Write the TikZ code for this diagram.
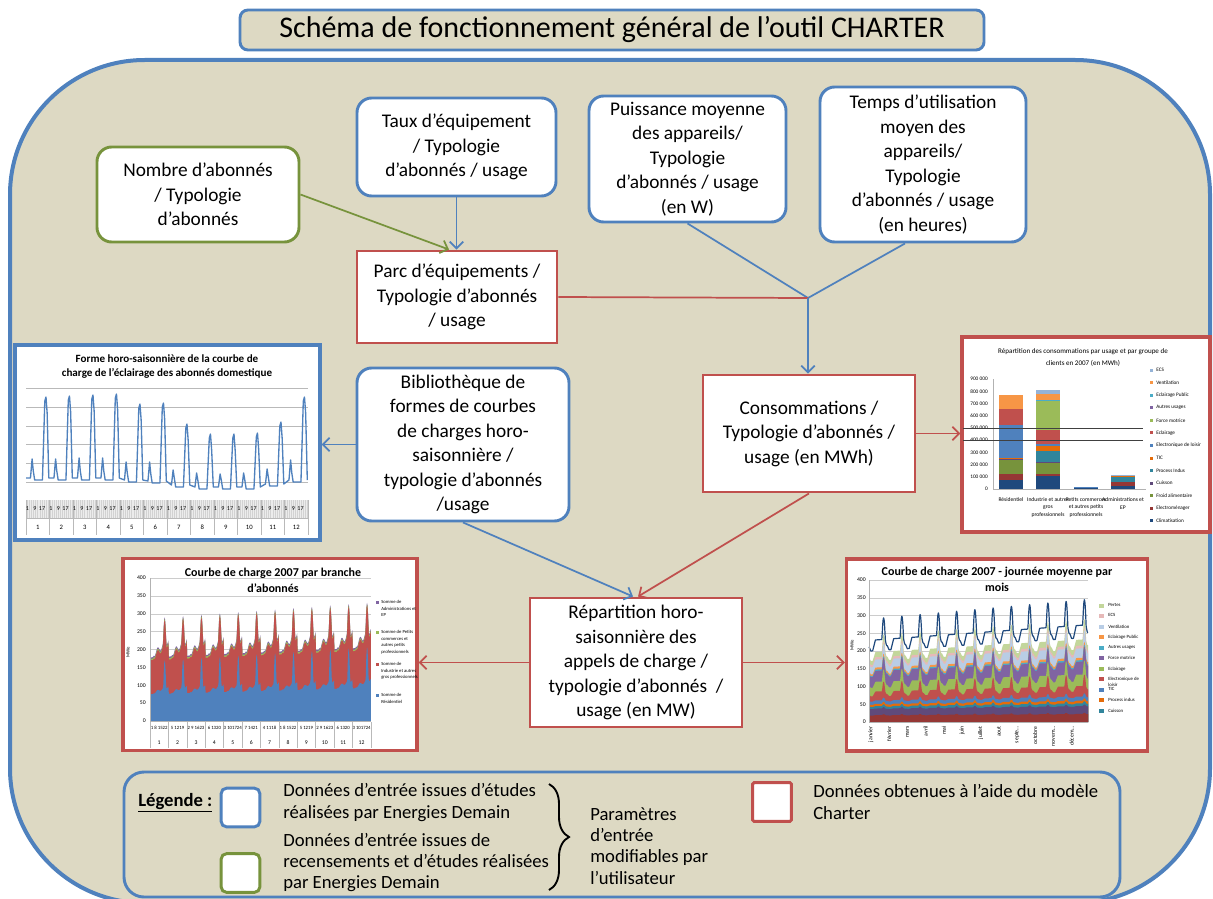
\documentclass[tikz,border=0pt]{standalone}
\usepackage{fontspec}
\setmainfont{Carlito}
\usepackage{tikz}
\usetikzlibrary{calc, positioning, arrows.meta, decorations.pathreplacing}

\definecolor{bleu}{HTML}{4F81BD}
\definecolor{rouge}{HTML}{C0504D}
\definecolor{vert}{HTML}{77933C}
\definecolor{beige}{HTML}{DDD9C3}
\definecolor{ecs}{HTML}{95B3D7}
\definecolor{ventil}{HTML}{F79646}
\definecolor{eclpub}{HTML}{4BACC6}
\definecolor{autres}{HTML}{8064A2}
\definecolor{force}{HTML}{9BBB59}
\definecolor{eclair}{HTML}{C0504D}
\definecolor{loisir}{HTML}{4F81BD}
\definecolor{tic}{HTML}{E46C0A}
\definecolor{process}{HTML}{31859C}
\definecolor{cuisson}{HTML}{5F497A}
\definecolor{froid}{HTML}{77933C}
\definecolor{menager}{HTML}{953735}
\definecolor{climat}{HTML}{1F497D}
\definecolor{pertesq}{HTML}{C3D69B}
\definecolor{ecsq}{HTML}{E6B9B8}
\definecolor{ventq}{HTML}{B9CDE5}
\definecolor{violq}{HTML}{604A7B}

\tikzset{
  donnee/.style={draw=#1, line width=2.2pt, fill=white, rounded corners=11pt, align=center, inner sep=0pt, font=\fontsize{14.5}{18.4}\selectfont},
  modele/.style={draw=rouge, line width=2.2pt, fill=white, align=center, inner sep=0pt, font=\fontsize{14.5}{18.4}\selectfont},
  graphe/.style={draw=#1, line width=2.6pt, fill=white, inner sep=0pt},
  carre/.style={draw=#1, line width=2.2pt, fill=white, rounded corners=4pt, minimum size=29pt, inner sep=0pt},
  legtxt/.style={align=left, inner sep=0pt, font=\fontsize{14}{16}\selectfont},
  lien/.style={line width=1.3pt, draw=#1},
  petit/.style 2 args={font=\fontsize{#1}{#2}\selectfont, inner sep=0pt},
  titregraphe/.style={align=center, inner sep=0pt, font=\bfseries\fontsize{9}{12}\selectfont},
}

\begin{document}
\begin{tikzpicture}[x=0.75pt, y=-0.75pt, >={Straight Barb[length=5pt,width=10pt]},
  declare function={
    bosse(\vt,\vc,\vw)=max(0,1-((\vt-\vc)/\vw)^2);
    forme(\vt)=178+45*\vt+8*sin(\vt*1080)+68*bosse(\vt,0.8,0.09)-12*bosse(\vt,0.1,0.1);
    formebas(\vt)=75+20*\vt+3*sin(\vt*1080)+74*bosse(\vt,0.8,0.08)-5*bosse(\vt,0.1,0.1);
    haut(\vx)=forme(mod(\vx,1))*(1+0.013*\vx);
    bas(\vx)=formebas(mod(\vx,1))*(1+0.02*\vx);
    jour(\vt)=0.12*max(0,1-\vt/0.1)+0.3*min(1,max(0,(\vt-0.2)/0.15))-0.18*min(1,max(0,(\vt-0.88)/0.08))+0.6*bosse(\vt,0.8,0.09);
    couche(\vx,\vb,\va)=(\vb+\va*jour(mod(\vx,1)))*(1+0.016*\vx);
  }]
  \fill[white, use as bounding box] (0,0) rectangle (1213,899);
  \begin{scope}
    \clip (0,0) rectangle (1213,899);
    \draw[bleu, line width=3pt, fill=beige, rounded corners=101pt] (10,60) rectangle (1210,903);
  \end{scope}

  \node[draw=bleu, line width=2.2pt, fill=beige, rounded corners=6pt, minimum width=558pt, minimum height=30pt, font=\fontsize{22.5}{26}\selectfont] (titre) at (612,30) {Schéma de fonctionnement général de l’outil CHARTER};

  \node[donnee=vert, minimum width=151.5pt, minimum height=71.25pt] (nombre) at (198,194.5) {Nombre d’abonnés\\/ Typologie\\d’abonnés};
  \node[donnee=bleu, minimum width=149.25pt, minimum height=73.5pt] (taux) at (456.5,147) {Taux d’équipement\\/ Typologie\\d’abonnés / usage};
  \node[donnee=bleu, minimum width=147.75pt, minimum height=94.5pt] (puissance) at (687.5,159) {Puissance moyenne\\des appareils/\\Typologie\\d’abonnés / usage\\(en W)};
  \node[donnee=bleu, minimum width=154.5pt, minimum height=116.25pt] (temps) at (923,164.5) {Temps d’utilisation\\moyen des\\appareils/\\Typologie\\d’abonnés / usage\\(en heures)};
  \node[modele, minimum width=150pt, minimum height=69pt] (parc) at (457,297) {Parc d’équipements /\\Typologie d’abonnés\\/ usage};
  \node[donnee=bleu, minimum width=159pt, minimum height=114.75pt] (biblio) at (463,444.5) {Bibliothèque de\\formes de courbes\\de charges horo-\\saisonnière /\\typologie d’abonnés\\/usage};
  \node[modele, minimum width=159pt, minimum height=87.75pt] (conso) at (809,433.5) {Consommations /\\Typologie d’abonnés /\\usage (en MWh)};
  \node[modele, minimum width=159pt, minimum height=96.75pt] (repart) at (636,662.5) {Répartition horo-\\saisonnière des\\appels de charge /\\typologie d’abonnés~ /\\usage (en MW)};

  \node[graphe=bleu, minimum width=228.75pt, minimum height=146.25pt] (g1) at (167.5,442.5) {};
  \node[graphe=rouge, minimum width=186pt, minimum height=146.25pt] (g2) at (1086,434.5) {};
  \node[graphe=rouge, minimum width=220.5pt, minimum height=144pt] (g3) at (270,654.5) {};
  \node[graphe=rouge, minimum width=225.75pt, minimum height=144pt] (g4) at (997,655) {};

  \coordinate (j) at (808,298);
  \draw[lien=vert, ->] (nombre.east) -- ($(parc.north)+(-8,0)$);
  \draw[lien=bleu, ->] (taux.south) -- (taux.south |- parc.north);
  \draw[lien=bleu] (puissance.south) -- (j);
  \draw[lien=bleu] ($(temps.south)+(-18,0)$) -- (j);
  \draw[lien=rouge] (parc.east) -- (j);
  \draw[lien=bleu, ->] (j) -- (j |- conso.north);
  \draw[lien=bleu, ->] (biblio.west) -- (biblio.west -| g1.east);
  \draw[lien=rouge, ->] (conso.east) -- (conso.east -| g2.west);
  \draw[lien=bleu, ->] (biblio.south) -- ($(repart.north)+(-3,0)$);
  \draw[lien=rouge, ->] (conso.south) -- ($(repart.north)+(2,0)$);
  \draw[lien=rouge, ->] (repart.west) -- (repart.west -| g3.east);
  \draw[lien=rouge, ->] (repart.east) -- (repart.east -| g4.west);

  % graphe 1
  \node[align=center, inner sep=0pt, font=\bfseries\fontsize{8.3}{10.5}\selectfont] (titre1) at (167,367) {Forme horo-saisonnière de la courbe de\\charge de l'éclairage des abonnés domestique};
  \foreach \y in {388,407,426,444,463,482}
    \draw[gray!55, line width=0.5pt] (26,\y) -- (308,\y);
  \fill[gray!35] (26,500) rectangle (308,518);
  \foreach \i in {0,...,143}
    \draw[white!85!gray, line width=0.35pt] ({26+\i*1.958},500) -- ++(0,18);
  \foreach \m in {0,...,12}
    \draw[gray!55, line width=0.4pt] ({26+\m*23.5},500) -- ++(0,35);
  \draw[gray!55, line width=0.4pt] (26,518) -- (308,518);
  \foreach \m in {1,...,12} {
    \node[petit={4.5}{5}] at ({26+(\m-1)*23.5+1.5},509) {1};
    \node[petit={4.5}{5}] at ({26+(\m-1)*23.5+9},509) {9};
    \node[petit={4.5}{5}] at ({26+(\m-1)*23.5+16},509) {17};
    \node[petit={5}{6}] at ({26+(\m-0.5)*23.5},527) {\m};
  }
  \draw[bleu, line width=1pt, line join=round] (26,478)
    \foreach \b/\p/\h [count=\m from 0] in {478/397/19, 478/396/19, 478/395/20, 478/394/20, 480/404/18, 481/403/19, 485/424/15, 487/434/14, 487/434/13, 487/433/14, 484/422/15, 480/397/20} {
      -- ({26+(\m+0.19)*23.5},\b) -- ({26+(\m+0.26)*23.5},{\b-\h}) -- ({26+(\m+0.31)*23.5},{\b-7})
      -- ({26+(\m+0.37)*23.5},{\b+2}) -- ({26+(\m+0.7)*23.5},{\b+2}) -- ({26+(\m+0.8)*23.5},{\p+4})
      -- ({26+(\m+0.85)*23.5},\p) -- ({26+(\m+0.9)*23.5},{\p+16}) -- ({26+(\m+0.97)*23.5},\b)
    };

  % graphe 2
  \node[align=center, inner sep=0pt, font=\fontsize{5.3}{9.5}\selectfont] (titre2) at (1083,357.5) {Répartition des consommations par usage et par groupe de\\clients en 2007 (en MWh)};
  \foreach \v in {0,...,9}
    \node[petit={4}{4}, anchor=east] at (988,{489-12.2*\v}) {\ifnum\v=0 0\else\v00 000\fi};
  \draw[gray!60, line width=0.4pt] (993,379) -- (993,489) -- (1146,489);
  \foreach \coul/\som [remember=\som as \pied (initially 489)] in {climat/480, menager/474.3, froid/460, cuisson/459, tic/457.7, loisir/425, eclair/409, ventil/395}
    \fill[\coul] (999,\pied) rectangle (1023,\som);
  \foreach \coul/\som [remember=\som as \pied (initially 489)] in {climat/475.7, menager/474, froid/462.3, cuisson/461.7, process/450.7, tic/446, loisir/444.3, eclair/430, force/400.7, autres/400.3, eclpub/400, ventil/394.3, ecs/390}
    \fill[\coul] (1036,\pied) rectangle (1060,\som);
  \foreach \coul/\som [remember=\som as \pied (initially 489)] in {climat/488, loisir/486.7}
    \fill[\coul] (1074,\pied) rectangle (1098,\som);
  \foreach \coul/\som [remember=\som as \pied (initially 489)] in {climat/485.7, menager/481.7, process/477.3, tic/476, ecs/475}
    \fill[\coul] (1111,\pied) rectangle (1135,\som);
  \draw[black!75, line width=0.6pt] (963,428.3) -- (1143,428.3);
  \draw[black!75, line width=0.6pt] (963,440.3) -- (1143,440.3);
  \node[petit={4.2}{5.5}] at (1011,500) {Résidentiel};
  \node[petit={4.2}{5.5}, align=center] at (1048,507.5) {Industrie et autres\\gros\\professionnels};
  \node[petit={4.2}{5.5}, align=center] at (1086,507.5) {Petits commerces\\et autres petits\\professionnels};
  \node[petit={4.2}{5.5}, align=center] at (1123,503.7) {Administrations et\\EP};
  \foreach \coul/\nom [count=\i from 0] in {ecs/ECS, ventil/Ventilation, eclpub/Eclairage Public, autres/Autres usages, force/Force motrice, eclair/Eclairage, loisir/Electronique de loisir, tic/TIC, process/Process Indus, cuisson/Cuisson, froid/Froid alimentaire, menager/Electroménager, climat/Climatisation} {
    \fill[\coul] (1150,{368.5+\i*12.58}) rectangle ++(3,3);
    \node[petit={3.9}{4.5}, anchor=west] at (1156,{370+\i*12.58}) {\nom};
  }

  % graphe 3
  \node[titregraphe] (titre3) at (273,580) {Courbe de charge 2007 par branche\\d'abonnés};
  \begin{scope}[shift={(150,721)}, x=13.8pt, y=0.268pt]
    \foreach \v in {50,100,...,400}
      \draw[gray!40, line width=0.4pt] (0,\v) -- (12,\v);
    \fill[autres] (0,0) -- plot[domain=0:12, samples=481] (\x,{haut(\x)}) -- (12,0) -- cycle;
    \fill[force] (0,0) -- plot[domain=0:12, samples=481] (\x,{haut(\x)-4}) -- (12,0) -- cycle;
    \fill[eclair] (0,0) -- plot[domain=0:12, samples=481] (\x,{haut(\x)-8}) -- (12,0) -- cycle;
    \fill[loisir] (0,0) -- plot[domain=0:12, samples=481] (\x,{bas(\x)}) -- (12,0) -- cycle;
    \draw[gray!60, line width=0.4pt] (0,400) -- (0,0) -- (12,0);
  \end{scope}
  \foreach \v in {0,50,...,400}
    \node[petit={4.3}{5}, anchor=east] at (146,{721-0.3575*\v}) {\v};
  \node[petit={3.6}{4}, rotate=90] at (128,652) {MWe};
  \foreach \m in {0,...,12}
    \draw[gray!55, line width=0.4pt] ({150+\m*18.4},722) -- ++(0,26);
  \foreach \lab [count=\m from 0] in {1 8 1522, 5 1219, 2 9 1623, 6 1320, 3 101724, 7 1421, 4 1118, 1 8 1522, 5 1219, 2 9 1623, 6 1320, 3 101724} {
    \node[petit={3.6}{4}] at ({150+(\m+0.5)*18.4},728) {\lab};
    \node[petit={4.3}{5}] at ({150+(\m+0.5)*18.4},743) {\the\numexpr\m+1\relax};
  }
  \fill[autres] (376,601) rectangle ++(3,3);
  \node[petit={3.5}{4.9}, align=left, anchor=north west] at (381,600) {Somme de\\Administrations et\\EP};
  \fill[force] (376,631) rectangle ++(3,3);
  \node[petit={3.5}{4.9}, align=left, anchor=north west] at (381,630) {Somme de Petits\\commerces et\\autres petits\\professionnels};
  \fill[eclair] (376,663) rectangle ++(3,3);
  \node[petit={3.5}{4.9}, align=left, anchor=north west] at (381,662) {Somme de\\Industrie et autres\\gros professionnels};
  \fill[loisir] (376,694) rectangle ++(3,3);
  \node[petit={3.5}{4.9}, align=left, anchor=north west] at (381,693) {Somme de\\Résidentiel};

  % graphe 4
  \node[titregraphe] (titre4) at (997,579.5) {Courbe de charge 2007 - journée moyenne par\\mois};
  \begin{scope}[shift={(869,722)}, x=13.69pt, y=0.266pt]
    \foreach \v in {50,100,...,400}
      \draw[gray!40, line width=0.4pt] (0,\v) -- (12,\v);
    \foreach \coul/\cb/\ca in {pertesq/172/80, ecsq/160/72, ventq/154/70, ventil/134/62, eclpub/129/60, autres/126/58, force/96/56, eclair/72/45, loisir/57/12, tic/48/9, process/42/8, violq/36/6, menager/18/4}
      \fill[\coul] (0,0) -- plot[domain=0:12, samples=481] (\x,{couche(\x,\cb,\ca)}) -- (12,0) -- cycle;
    \draw[climat, line width=0.9pt, line join=round] plot[domain=0:12, samples=481] (\x,{couche(\x,200,100)});
    \draw[gray!60, line width=0.4pt] (0,400) -- (0,0) -- (12,0);
  \end{scope}
  \foreach \v in {0,50,...,400}
    \node[petit={4.3}{5}, anchor=east] at (866,{722-0.355*\v}) {\v};
  \node[petit={3.6}{4}, rotate=90] at (852,645) {MWe};
  \foreach \mois [count=\i from 0] in {janvier, février, mars, avril, mai, juin, juillet, aout, septe\ldots, octobre, novem\ldots, décem\ldots}
    \node[petit={4.3}{5}, rotate=90, anchor=east] at ({871+\i*18.25},726) {\mois};
  \foreach \coul/\nom/\y in {pertesq/Pertes/606, ecsq/ECS/616, ventq/Ventilation/627, ventil/Eclairage Public/637, eclpub/Autres usages/648, autres/Force motrice/658, force/Eclairage/669, eclair/{Electronique de\\loisir}/679, loisir/TIC/690, tic/Process indus/700, process/Cuisson/711} {
    \fill[\coul] (1099,{\y-2}) rectangle ++(5,4);
    \node[petit={3.6}{4.5}, align=left, anchor=north west] at (1108,{\y-2.5}) {\nom};
  }

  % legende
  \node[draw=bleu, line width=2.2pt, rounded corners=15pt, minimum width=747pt, minimum height=93.75pt, inner sep=0pt] (legende) at (622,834.5) {};
  \node[anchor=west, inner sep=0pt, font=\bfseries\fontsize{14}{16}\selectfont] (leg) at (138,803) {\underline{Légende :}};
  \node[carre=bleu] (cbleu) at (240.5,807.5) {};
  \node[carre=vert] (cvert) at (240.5,873) {};
  \node[carre=rouge, rounded corners=1pt] (crouge) at (772,802) {};
  \node[legtxt, anchor=west] (t1) at (283,802.5) {Données d’entrée issues d’études\\réalisées par Energies Demain};
  \node[legtxt, anchor=west] (t2) at (283,862.5) {Données d’entrée issues de\\recensements et d’études réalisées\\par Energies Demain};
  \node[legtxt, anchor=west] (t3) at (590,846) {Paramètres\\d’entrée\\modifiables par\\l’utilisateur};
  \node[legtxt, anchor=west] (t4) at (813,802) {Données obtenues à l’aide du modèle\\Charter};
  \draw[decorate, decoration={brace, amplitude=15pt}, line width=1.4pt] (549,784) -- (549,890);
\end{tikzpicture}
\end{document}
